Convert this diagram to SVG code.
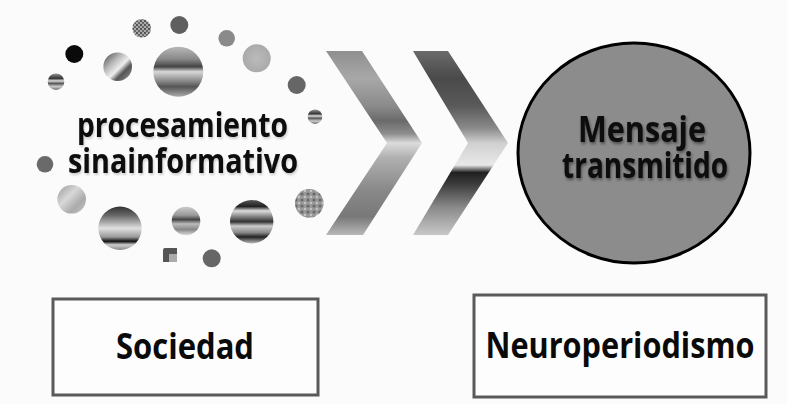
<svg xmlns="http://www.w3.org/2000/svg" width="787" height="404" viewBox="0 0 787 404">
<style>
.t{font-family:"Open Sans","Liberation Sans",sans-serif;font-weight:700;fill:#0a0a0a;text-anchor:middle;}
.box{fill:#fdfdfd;stroke:#5a5a5a;stroke-width:3;}
</style>
<defs>
<filter id="sh" x="-10%" y="-30%" width="120%" height="160%">
<feGaussianBlur in="SourceAlpha" stdDeviation="1.6"/>
<feOffset dx="1" dy="2" result="b"/>
<feFlood flood-color="#000" flood-opacity="0.45"/>
<feComposite in2="b" operator="in"/>
<feMerge><feMergeNode/><feMergeNode in="SourceGraphic"/></feMerge>
</filter>
<filter id="sh2" x="-10%" y="-30%" width="120%" height="160%">
<feGaussianBlur in="SourceAlpha" stdDeviation="1"/>
<feOffset dx="1" dy="1.5" result="b"/>
<feFlood flood-color="#000" flood-opacity="0.18"/>
<feComposite in2="b" operator="in"/>
<feMerge><feMergeNode/><feMergeNode in="SourceGraphic"/></feMerge>
</filter>
<linearGradient id="ch1" gradientUnits="userSpaceOnUse" x1="0" y1="51" x2="0" y2="235">
<stop offset="0" stop-color="#8f8f8f"/>
<stop offset="0.15" stop-color="#a8a8a8"/>
<stop offset="0.3" stop-color="#8a8a8a"/>
<stop offset="0.38" stop-color="#6a6a6a"/>
<stop offset="0.45" stop-color="#8e8e8e"/>
<stop offset="0.5" stop-color="#dcdcdc"/>
<stop offset="0.58" stop-color="#b0b0b0"/>
<stop offset="0.75" stop-color="#8a8a8a"/>
<stop offset="0.9" stop-color="#787878"/>
<stop offset="1" stop-color="#b8b8b8"/>
</linearGradient>
<linearGradient id="ch2" gradientUnits="userSpaceOnUse" x1="0" y1="51" x2="0" y2="235">
<stop offset="0" stop-color="#6a6a6a"/>
<stop offset="0.15" stop-color="#4a4a4a"/>
<stop offset="0.3" stop-color="#5a5a5a"/>
<stop offset="0.42" stop-color="#8a8a8a"/>
<stop offset="0.5" stop-color="#d0d0d0"/>
<stop offset="0.62" stop-color="#e8e8e8"/>
<stop offset="0.66" stop-color="#202020"/>
<stop offset="0.72" stop-color="#3a3a3a"/>
<stop offset="0.85" stop-color="#8a8a8a"/>
<stop offset="1" stop-color="#c8c8c8"/>
</linearGradient>
<linearGradient id="sA" x1="0" y1="0" x2="0" y2="1">
<stop offset="0" stop-color="#b8b8b8"/>
<stop offset="0.25" stop-color="#888"/>
<stop offset="0.4" stop-color="#444"/>
<stop offset="0.5" stop-color="#d8d8d8"/>
<stop offset="0.65" stop-color="#999"/>
<stop offset="0.8" stop-color="#555"/>
<stop offset="1" stop-color="#aaa"/>
</linearGradient>
<linearGradient id="sB" x1="0" y1="0" x2="0" y2="1">
<stop offset="0" stop-color="#333"/>
<stop offset="0.2" stop-color="#666"/>
<stop offset="0.5" stop-color="#e0e0e0"/>
<stop offset="0.7" stop-color="#999"/>
<stop offset="0.8" stop-color="#111"/>
<stop offset="0.88" stop-color="#cfcfcf"/>
<stop offset="1" stop-color="#888"/>
</linearGradient>
<linearGradient id="sC" x1="0" y1="0" x2="0" y2="1">
<stop offset="0" stop-color="#555"/>
<stop offset="0.15" stop-color="#222"/>
<stop offset="0.25" stop-color="#ddd"/>
<stop offset="0.4" stop-color="#777"/>
<stop offset="0.5" stop-color="#333"/>
<stop offset="0.6" stop-color="#ccc"/>
<stop offset="0.75" stop-color="#888"/>
<stop offset="0.85" stop-color="#222"/>
<stop offset="1" stop-color="#bbb"/>
</linearGradient>
<linearGradient id="sD" x1="0" y1="0" x2="0" y2="1">
<stop offset="0" stop-color="#ccc"/>
<stop offset="0.3" stop-color="#999"/>
<stop offset="0.45" stop-color="#444"/>
<stop offset="0.6" stop-color="#bbb"/>
<stop offset="0.8" stop-color="#888"/>
<stop offset="1" stop-color="#ddd"/>
</linearGradient>
<linearGradient id="sE" x1="0" y1="0" x2="0" y2="1">
<stop offset="0" stop-color="#999"/>
<stop offset="0.3" stop-color="#333"/>
<stop offset="0.45" stop-color="#ddd"/>
<stop offset="0.6" stop-color="#555"/>
<stop offset="0.8" stop-color="#ccc"/>
<stop offset="1" stop-color="#666"/>
</linearGradient>
<linearGradient id="mt" x1="0" y1="0" x2="1" y2="1">
<stop offset="0" stop-color="#444"/>
<stop offset="0.35" stop-color="#bbb"/>
<stop offset="0.55" stop-color="#eee"/>
<stop offset="0.7" stop-color="#555"/>
<stop offset="1" stop-color="#999"/>
</linearGradient>
<linearGradient id="lt" x1="0" y1="0" x2="1" y2="1">
<stop offset="0" stop-color="#999"/>
<stop offset="0.4" stop-color="#d8d8d8"/>
<stop offset="0.7" stop-color="#aaa"/>
<stop offset="1" stop-color="#c8c8c8"/>
</linearGradient>
<radialGradient id="tx1">
<stop offset="0" stop-color="#bbb"/>
<stop offset="1" stop-color="#aaa"/>
</radialGradient>
<pattern id="chk" width="4" height="4" patternUnits="userSpaceOnUse">
<rect width="4" height="4" fill="#aaa"/>
<rect width="2" height="2" fill="#555"/>
<rect x="2" y="2" width="2" height="2" fill="#666"/>
</pattern>
<pattern id="mot" width="6" height="6" patternUnits="userSpaceOnUse">
<rect width="6" height="6" fill="#999"/>
<circle cx="2" cy="2" r="1.6" fill="#6a6a6a"/>
<circle cx="5" cy="5" r="1.2" fill="#c4c4c4"/>
</pattern>
</defs>
<rect width="787" height="404" fill="#fbfbfb"/>

<g id="bubbles">
<circle cx="141.7" cy="28.3" r="9.3" fill="url(#chk)"/>
<circle cx="179.3" cy="25" r="9" fill="#5f5f5f"/>
<circle cx="226.7" cy="38.3" r="8.3" fill="#8a8a8a"/>
<circle cx="74.3" cy="54" r="9" fill="#0a0a0a"/>
<circle cx="117.7" cy="66.7" r="14.3" fill="url(#mt)"/>
<circle cx="178.3" cy="71.7" r="25" fill="url(#sA)"/>
<circle cx="256.7" cy="58.3" r="14" fill="url(#tx1)"/>
<circle cx="56" cy="81.7" r="8.3" fill="url(#sE)"/>
<circle cx="296.7" cy="85" r="9" fill="#666"/>
<circle cx="315" cy="116.7" r="7.3" fill="url(#sE)"/>
<circle cx="45" cy="164.3" r="8.3" fill="#6a6a6a"/>
<circle cx="71.7" cy="199.3" r="14.3" fill="url(#lt)"/>
<circle cx="120" cy="228.3" r="21.7" fill="url(#sB)"/>
<circle cx="186" cy="221" r="14.3" fill="url(#sD)"/>
<circle cx="251.7" cy="221.7" r="21.7" fill="url(#sC)"/>
<circle cx="309.3" cy="203.3" r="14.3" fill="url(#mot)"/>
<path d="M165 248 h12 v14 h-14 v-12 a2 2 0 0 1 2 -2 z" fill="#555"/>
<rect x="169" y="254" width="8" height="8" fill="#aaa"/>
<circle cx="211.7" cy="258.3" r="9" fill="#666"/>
</g>

<g id="node-procesamiento" filter="url(#sh2)">
<text class="t" x="182.5" y="137" font-size="34" textLength="211" lengthAdjust="spacingAndGlyphs">procesamiento</text>
<text class="t" x="183" y="173" font-size="34" textLength="230" lengthAdjust="spacingAndGlyphs">sinainformativo</text>
</g>

<g id="connectors">
<polygon points="326,51 362,51 422,143 363,235 326,235 387,143" fill="url(#ch1)"/>
<polygon points="413,51 448,51 508,143 448,235 413,235 468,143" fill="url(#ch2)"/>
</g>

<g id="node-mensaje">
<ellipse cx="634" cy="153" rx="116" ry="110" fill="#8c8c8c" stroke="#000" stroke-width="3"/>
<g filter="url(#sh)">
<text class="t" x="642" y="142" font-size="35" textLength="128" lengthAdjust="spacingAndGlyphs">Mensaje</text>
<text class="t" x="645" y="178" font-size="35" textLength="166" lengthAdjust="spacingAndGlyphs">transmitido</text>
</g>
</g>

<g id="node-sociedad">
<rect class="box" x="53" y="299" width="265" height="96"/>
<text class="t" x="185" y="359" font-size="35" textLength="138" lengthAdjust="spacingAndGlyphs">Sociedad</text>
</g>

<g id="node-neuroperiodismo">
<rect class="box" x="474" y="295" width="292" height="102"/>
<text class="t" x="620" y="358" font-size="35" textLength="269" lengthAdjust="spacingAndGlyphs">Neuroperiodismo</text>
</g>
</svg>
